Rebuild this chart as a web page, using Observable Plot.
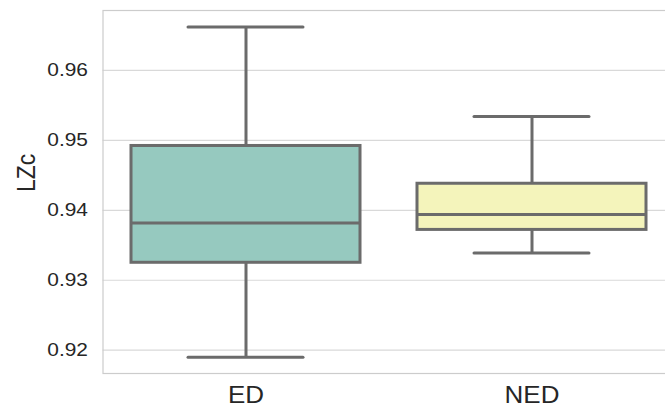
<!DOCTYPE html>
<html>
<head>
<meta charset="utf-8">
<script src="https://cdn.jsdelivr.net/npm/d3@7"></script>
<script src="https://cdn.jsdelivr.net/npm/@observablehq/plot@0.6"></script>
<style>
  html, body { margin: 0; padding: 0; background: #fff; overflow: hidden; }
  #chart svg { display: block; }
</style>
</head>
<body>
<div id="chart"></div>
<script>
// Box summaries of LZc per group
const categories = ["ED", "NED"];
const whiskerLow = [0.9190, 0.9339];
const q1 = [0.9325, 0.9372];
const median = [0.9382, 0.9394];
const q3 = [0.9492, 0.9438];
const whiskerHigh = [0.9662, 0.9534];
const boxColors = ["#96c9bf", "#f4f4bb"];
const yTicks = [0.92, 0.93, 0.94, 0.95, 0.96];

const rows = categories.map((c, i) => ({
  group: c,
  lo: whiskerLow[i],
  q1: q1[i],
  med: median[i],
  q3: q3[i],
  hi: whiskerHigh[i]
}));

const lineColor = "#6b6b6b";
const lw = 3;

const chart = Plot.plot({
  width: 665,
  height: 408,
  marginLeft: 102.5,
  marginRight: -10,
  marginTop: 10,
  marginBottom: 35,
  style: { fontFamily: "Liberation Sans, Arial, sans-serif", color: "#262626", background: "#fff" },
  x: { domain: categories, paddingInner: 0.2, paddingOuter: 0.1, label: null },
  y: { domain: [0.91667, 0.96857], label: null },
  color: { domain: categories, range: boxColors },
  marks: [
    Plot.gridY(yTicks, { stroke: "#d9d9d9", strokeOpacity: 1, strokeWidth: 1.2 }),
    Plot.frame({ stroke: "#cccccc", strokeWidth: 1.2 }),
    Plot.axisY(yTicks, {
      tickSize: 0, tickPadding: 15, fontSize: 18.5, tickFormat: d3.format(".2f"),
      label: null
    }),
    Plot.axisX({ tickSize: 0, tickPadding: 13, fontSize: 23, label: null }),
    Plot.text(["LZc"], {
      frameAnchor: "left", dx: -76, rotate: -90, fontSize: 23, fill: "#262626"
    }),
    // whiskers
    Plot.ruleX(rows, { x: "group", y1: "lo", y2: "hi", stroke: lineColor, strokeWidth: lw }),
    // boxes
    Plot.barY(rows, {
      x: "group", y1: "q1", y2: "q3", fill: "group",
      stroke: lineColor, strokeWidth: lw
    }),
    // medians
    Plot.tickY(rows, { x: "group", y: "med", stroke: lineColor, strokeWidth: lw }),
    // whisker caps
    Plot.tickY(rows, { x: "group", y: "lo", stroke: lineColor, strokeWidth: lw, strokeLinecap: "round", insetLeft: 57, insetRight: 57 }),
    Plot.tickY(rows, { x: "group", y: "hi", stroke: lineColor, strokeWidth: lw, strokeLinecap: "round", insetLeft: 57, insetRight: 57 })
  ]
});

// Widen the lettering a little around each label's anchor point
d3.select(chart).selectAll("text").each(function () {
  const t = this.getAttribute("transform");
  if (!t) return;
  if (t.includes("rotate")) {
    this.setAttribute("transform", t.replace(/rotate\(/, "scale(1.13,1) rotate("));
  } else {
    this.setAttribute("transform", t + " scale(1.13,1)");
  }
});

document.getElementById("chart").appendChild(chart);
</script>
</body>
</html>
